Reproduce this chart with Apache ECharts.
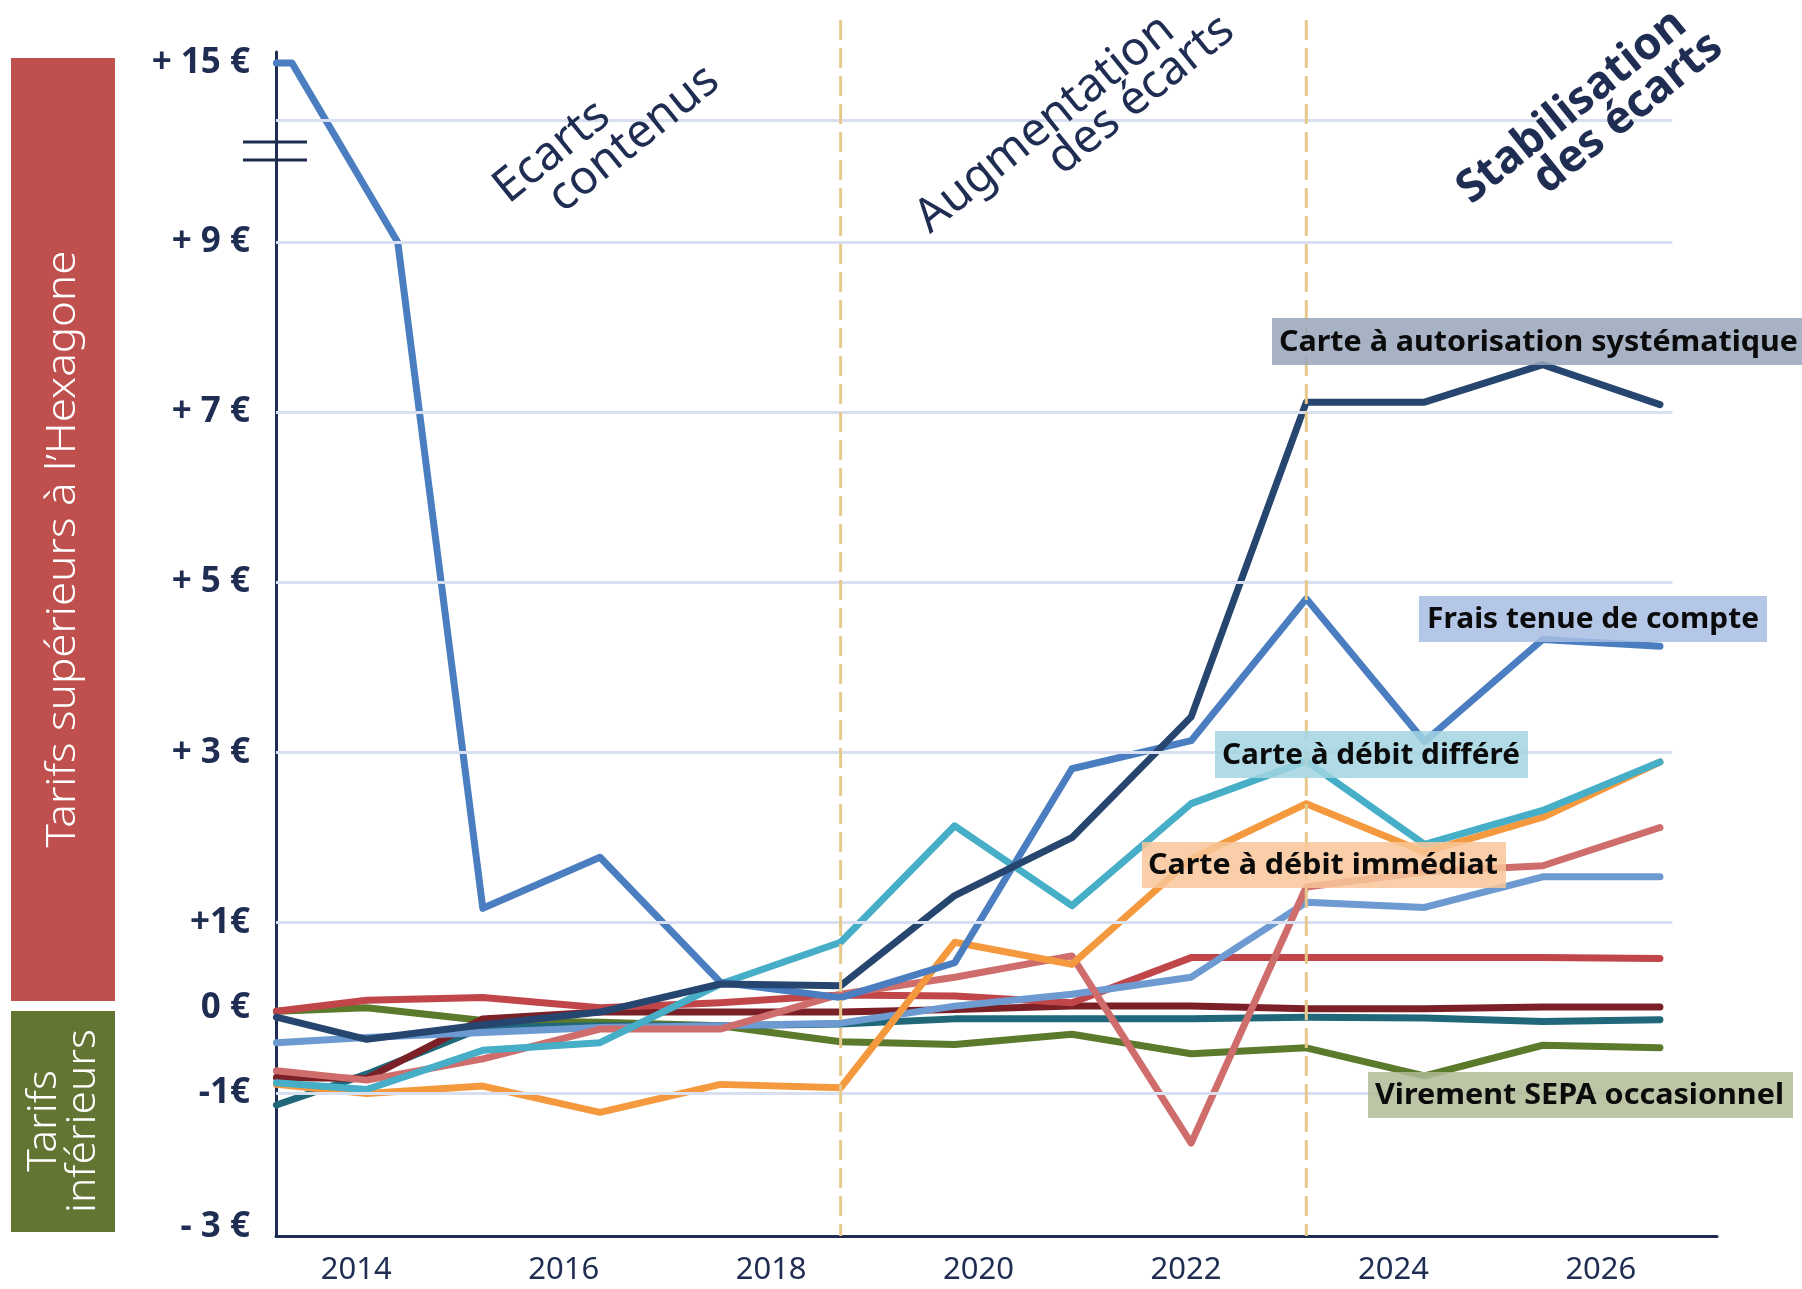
<!doctype html>
<html>
<head>
<meta charset="UTF-8">
<title>Écarts de tarifs bancaires</title>
<style>
html,body{margin:0;padding:0;background:#fff;}
#chart{width:1802px;height:1289px;}
</style>
</head>
<body>
<div id="chart"></div>
<script src="https://cdn.jsdelivr.net/npm/echarts@6/dist/echarts.min.js"></script>
<script>
var periods = [2013.23, 2014.1, 2015.22, 2016.35, 2017.51, 2018.67, 2019.77, 2020.9, 2022.05, 2023.16, 2024.3, 2025.44, 2026.57];
var periodsTenue = [2013.23, 2013.38, 2014.4, 2015.22, 2016.35, 2017.51, 2018.67, 2019.77, 2020.9, 2022.05, 2023.16, 2024.3, 2025.44, 2026.57];
var yearTicks = [2014, 2016, 2018, 2020, 2022, 2024, 2026];

var yTickValues = [15, 9, 7, 5, 3, 1, 0, -1, -3];
var yTickLabels = ['+ 15 €', '+ 9 €', '+ 7 €', '+ 5 €', '+ 3 €', '+1€', '0 €', '-1€', '- 3 €'];
var gridValues = [13.1, 9, 7, 5, 3, 1, -1];
var breakValues = [12.36, 11.75];

// écarts de tarifs (€)
var autorisation = [-0.11, -0.37, -0.2, -0.05, 0.28, 0.26, 1.32, 2.0, 3.42, 7.12, 7.12, 7.56, 7.09];
var tenueCompte = [15, 15, 9, 1.17, 1.77, 0.3, 0.12, 0.53, 2.81, 3.14, 4.81, 3.13, 4.33, 4.25];
var debitDiffere = [-0.88, -0.96, -0.5, -0.41, 0.28, 0.77, 2.14, 1.2, 2.4, 2.9, 1.92, 2.32, 2.89];
var debitImmediat = [-0.9, -1.01, -0.92, -1.29, -0.9, -0.94, 0.77, 0.51, 1.75, 2.4, 1.83, 2.24, 2.89];
var serieRose = [-0.74, -0.85, -0.6, -0.25, -0.25, 0.16, 0.36, 0.61, -1.75, 1.42, 1.6, 1.67, 2.12];
var serieBleuClair = [-0.41, -0.35, -0.29, -0.23, -0.21, -0.18, 0.02, 0.16, 0.36, 1.24, 1.18, 1.54, 1.54];
var serieRouge = [-0.04, 0.09, 0.12, 0.0, 0.06, 0.15, 0.14, 0.06, 0.59, 0.59, 0.59, 0.59, 0.58];
var serieBordeaux = [-0.82, -0.83, -0.13, -0.05, -0.05, -0.05, -0.02, 0.02, 0.02, -0.01, -0.01, 0.01, 0.01];
var seriePetrole = [-1.18, -0.78, -0.23, -0.21, -0.21, -0.19, -0.13, -0.13, -0.13, -0.11, -0.12, -0.16, -0.14];
var virementSepa = [-0.04, 0.0, -0.15, -0.17, -0.21, -0.4, -0.43, -0.31, -0.54, -0.47, -0.8, -0.44, -0.47];

// axe vertical comprimé sous -1 et au-dessus de 9
var LOW = 0.788, HIGH = 0.351;
function toAxis(v) {
	if (v < -1) return -1 + (v + 1) * LOW;
	if (v > 9) return 9 + (v - 9) * HIGH;
	return v;
}

var FONT = '"Noto Sans", sans-serif';
var NAVY = '#1f2d52';
var xMin = 2013.226, xMax = 2027.12, gridEndX = 2026.69;
var yMin = toAxis(-3.135), yMax = toAxis(15.37);

function serie(name, xs, values, color) {
	return {
		name: name,
		type: 'line',
		symbol: 'none',
		silent: true,
		data: values.map(function (v, i) { return [xs[i], toAxis(v)]; }),
		lineStyle: { color: color, width: 7, cap: 'round', join: 'round' }
	};
}

var chart = echarts.init(document.getElementById('chart'));
var option = {
	animation: false,
	backgroundColor: '#fff',
	grid: { left: 276, right: 85, top: 52, bottom: 53 },
	xAxis: {
		type: 'value', min: xMin, max: xMax,
		axisLine: { show: true, onZero: false, lineStyle: { color: NAVY, width: 3 } },
		axisTick: { show: false },
		splitLine: { show: false },
		axisLabel: {
			customValues: yearTicks,
			formatter: function (v) { return String(v); },
			fontSize: 31, color: NAVY, fontFamily: FONT, margin: 19
		}
	},
	yAxis: {
		type: 'value', min: yMin, max: yMax,
		axisLine: { show: true, onZero: false, lineStyle: { color: NAVY, width: 3 } },
		axisTick: { show: false },
		splitLine: { show: false },
		axisLabel: {
			customValues: yTickValues.map(toAxis),
			formatter: function (v) {
				for (var i = 0; i < yTickValues.length; i++) {
					if (Math.abs(toAxis(yTickValues[i]) - v) < 1e-6) return yTickLabels[i];
				}
				return '';
			},
			fontSize: 35, fontWeight: 'bold', color: NAVY, fontFamily: FONT, margin: 26
		}
	},
	series: [
		{
			type: 'line', data: [], silent: true,
			markLine: {
				silent: true, symbol: 'none', label: { show: false },
				lineStyle: { color: '#d8dff1', width: 3, type: 'solid' },
				data: gridValues.map(function (v) {
					return [{ coord: [xMin, toAxis(v)] }, { coord: [gridEndX, toAxis(v)] }];
				})
			}
		},
		serie('Virement SEPA occasionnel', periods, virementSepa, '#5b7a2b'),
		serie('Pétrole', periods, seriePetrole, '#21677a'),
		serie('Bordeaux', periods, serieBordeaux, '#7a2026'),
		serie('Rouge', periods, serieRouge, '#c0464a'),
		serie('Bleu clair', periods, serieBleuClair, '#6e9ad2'),
		serie('Rose', periods, serieRose, '#cf6d6d'),
		serie('Carte à débit immédiat', periods, debitImmediat, '#f5993f'),
		serie('Carte à débit différé', periods, debitDiffere, '#46aec7'),
		serie('Frais tenue de compte', periodsTenue, tenueCompte, '#4a7ec0'),
		serie('Carte à autorisation systématique', periods, autorisation, '#27466f')
	]
};
chart.setOption(option);

// éléments d'habillage
var ctx = document.createElement('canvas').getContext('2d');
function xPix(v) { return chart.convertToPixel({ xAxisIndex: 0 }, v); }
function yPix(v) { return chart.convertToPixel({ yAxisIndex: 0 }, toAxis(v)); }
function textWidth(text, size, weight) {
	ctx.font = weight + ' ' + size + 'px "Noto Sans"';
	return ctx.measureText(text).width;
}
var axisX = xPix(xMin);
var yBottom = chart.convertToPixel({ yAxisIndex: 0 }, yMin);

var g = [];
[periods[5], periods[9]].forEach(function (p) {
	var x = xPix(p);
	g.push({ type: 'line', z: 50, silent: true, shape: { x1: x, y1: 20, x2: x, y2: yBottom },
		style: { stroke: '#e6c88b', lineWidth: 3, lineDash: [20, 8] } });
});
breakValues.forEach(function (v) {
	var y = yPix(v);
	g.push({ type: 'line', z: 50, silent: true, shape: { x1: axisX - 33, y1: y, x2: axisX + 31, y2: y },
		style: { stroke: NAVY, lineWidth: 3 } });
});

// bandeaux de gauche
g.push({ type: 'rect', silent: true, shape: { x: 11, y: 58, width: 104, height: 943 }, style: { fill: '#c0504d' } });
g.push({ type: 'rect', silent: true, shape: { x: 11, y: 1011, width: 104, height: 221 }, style: { fill: '#627532' } });
var bandText = 'Tarifs supérieurs à l’Hexagone';
g.push({ type: 'text', silent: true, x: 64, y: 549, rotation: Math.PI / 2,
	scaleX: 597 / textWidth(bandText, 40, 300),
	style: { text: bandText, fill: '#fff', fontSize: 40, fontFamily: FONT, fontWeight: 300, align: 'center', verticalAlign: 'middle' } });
g.push({ type: 'text', silent: true, x: 64, y: 1121, rotation: Math.PI / 2,
	scaleX: 184 / textWidth('inférieurs', 40, 300),
	style: { text: 'Tarifs\ninférieurs', fill: '#fff', fontSize: 40, lineHeight: 39, fontFamily: FONT, fontWeight: 300, align: 'center', verticalAlign: 'middle' } });

// phases
var phases = [
	{ text: 'Ecarts', x: 552, y: 152, bold: false },
	{ text: 'contenus', x: 634, y: 139, bold: false },
	{ text: 'Augmentation', x: 1045, y: 124, bold: false },
	{ text: 'des écarts', x: 1141, y: 95, bold: false },
	{ text: 'Stabilisation', x: 1572, y: 107, bold: true },
	{ text: 'des écarts', x: 1628, y: 113, bold: true }
];
phases.forEach(function (p) {
	g.push({ type: 'text', z: 60, silent: true, x: p.x, y: p.y, rotation: 39 * Math.PI / 180,
		style: { text: p.text, fill: NAVY, fontSize: p.bold ? 45 : 47, fontWeight: p.bold ? 'bold' : 'normal',
			fontFamily: FONT, align: 'center', verticalAlign: 'middle' } });
});

// étiquettes des séries
var tags = [
	{ text: 'Carte à autorisation systématique', box: [1272, 318, 530, 47], fill: '#98a5bb', tx: 1279, tw: 519 },
	{ text: 'Frais tenue de compte', box: [1419, 596, 348, 46], fill: '#a7bde3', tx: 1427, tw: 332 },
	{ text: 'Carte à débit différé', box: [1215, 731, 313, 47], fill: '#a2d5e2', tx: 1222, tw: 298 },
	{ text: 'Carte à débit immédiat', box: [1142, 842, 364, 46], fill: '#f8c699', tx: 1148, tw: 350 },
	{ text: 'Virement SEPA occasionnel', box: [1368, 1072, 425, 46], fill: '#b0bc96', tx: 1375, tw: 409 }
];
tags.forEach(function (t) {
	var b = t.box;
	g.push({ type: 'rect', z: 80, silent: true, shape: { x: b[0], y: b[1], width: b[2], height: b[3] },
		style: { fill: t.fill, opacity: 0.85 } });
	g.push({ type: 'text', z: 90, silent: true, x: t.tx, y: b[1] + b[3] / 2 + 1,
		scaleX: t.tw / textWidth(t.text, 29, 'bold'),
		style: { text: t.text, fill: '#0b0b0b', fontSize: 29, fontWeight: 'bold', fontFamily: FONT,
			align: 'left', verticalAlign: 'middle' } });
});

chart.setOption({ graphic: g });
</script>
</body>
</html>
